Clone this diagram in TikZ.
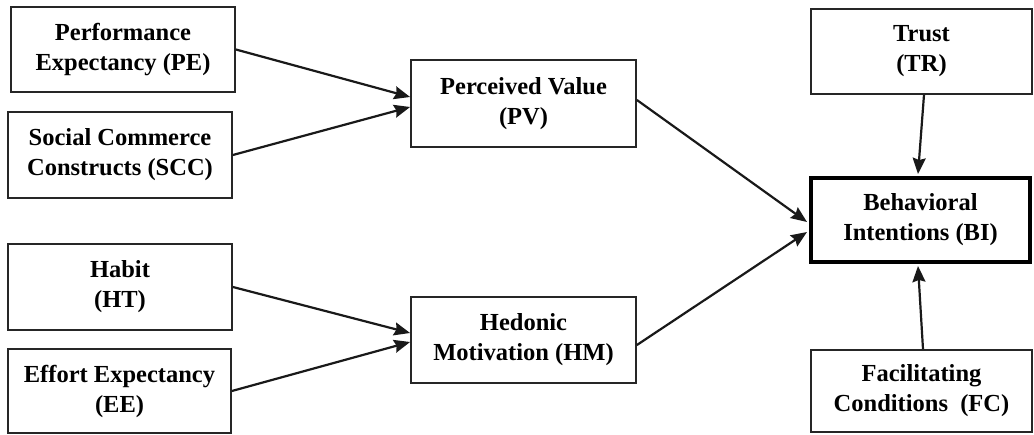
\documentclass[tikz,border=0pt]{standalone}
\usepackage{fontspec}
\setmainfont{Liberation Serif}
\usetikzlibrary{arrows.meta,calc}
\begin{document}
\begin{tikzpicture}[x=1pt,y=-1pt,
  box/.style={draw=black!85,line width=1.8pt,inner sep=0pt,align=center,
    font=\fontsize{24.5}{30}\selectfont\bfseries,text=black},
  mainbox/.style={box,draw=black,line width=4pt},
  arr/.style={draw=black!90,line width=2.2pt,-{Stealth[length=16pt,width=13pt,inset=2pt]}}]
\useasboundingbox (0,0) rectangle (1034,435);
\node[box,minimum width=224pt,minimum height=85pt] (PE) at (123,49.5) {Performance\\Expectancy (PE)};
\node[box,minimum width=224pt,minimum height=86pt] (SCC) at (120,155) {Social Commerce\\Constructs (SCC)};
\node[box,minimum width=224pt,minimum height=86pt] (HT) at (120,287) {Habit\\(HT)};
\node[box,minimum width=223pt,minimum height=84pt] (EE) at (119.5,391) {Effort Expectancy\\(EE)};
\node[box,minimum width=225pt,minimum height=87pt] (PV) at (523.5,103.5) {Perceived Value\\(PV)};
\node[box,minimum width=225pt,minimum height=86pt] (HM) at (523.5,340) {Hedonic\\Motivation (HM)};
\node[box,minimum width=221pt,minimum height=85pt] (TR) at (921.5,51.5) {Trust\\(TR)};
\node[mainbox,minimum width=219pt,minimum height=84pt] (BI) at (920.5,220) {Behavioral\\Intentions (BI)};
\node[box,minimum width=221pt,minimum height=82pt] (FC) at (921.5,391) {Facilitating\\Conditions\ \ (FC)};
\coordinate (pvin1) at ($(PV.west)+(0,-6.5)$);
\coordinate (pvin2) at ($(PV.west)+(0,3.5)$);
\coordinate (hmin1) at ($(HM.west)+(0,-7)$);
\coordinate (hmin2) at ($(HM.west)+(0,2)$);
\coordinate (pvout) at ($(PV.east)+(0,-3.5)$);
\coordinate (hmout) at ($(HM.east)+(0,5)$);
\coordinate (biin1) at ($(BI.west)+(-2,2)$);
\coordinate (biin2) at ($(BI.west)+(-2,12)$);
\coordinate (trout) at ($(TR.south)+(2.5,0)$);
\coordinate (biin3) at ($(BI.north)+(-2.5,-2)$);
\coordinate (fcout) at ($(FC.north)+(1.5,0)$);
\coordinate (biin4) at ($(BI.south)+(-2.5,2)$);
\draw[arr] (PE.east) -- (pvin1);
\draw[arr] (SCC.east) -- (pvin2);
\draw[arr] (HT.east) -- (hmin1);
\draw[arr] (EE.east) -- (hmin2);
\draw[arr] (pvout) -- (biin1);
\draw[arr] (hmout) -- (biin2);
\draw[arr] (trout) -- (biin3);
\draw[arr] (fcout) -- (biin4);
\end{tikzpicture}
\end{document}
